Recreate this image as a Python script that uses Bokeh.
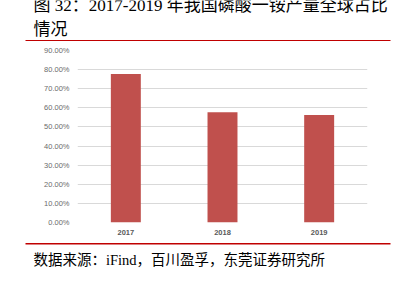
from bokeh.plotting import figure
from bokeh.layouts import column, row
from bokeh.models import FactorRange, Range1d, NumeralTickFormatter, FixedTicker
from bokeh.core.properties import value
from bokeh.embed import file_html
from bokeh.resources import INLINE

years = ["2017", "2018", "2019"]
share = [0.777, 0.577, 0.562]
y_ticks = [0.0, 0.1, 0.2, 0.3, 0.4, 0.5, 0.6, 0.7, 0.8, 0.9]
title_line1 = "图 32：2017-2019 年我国磷酸一铵产量全球占比"
title_line2 = "情况"
source_text = "数据来源：iFind，百川盈孚，东莞证券研究所"

W = 397
FONT = "Liberation Serif, Noto Sans CJK SC"
RED = "#c00000"


def blank(h):
    f = figure(width=W, height=h, x_range=Range1d(0, W), y_range=Range1d(h, 0),
               output_backend="svg", toolbar_location=None,
               x_axis_location=None, y_axis_location=None,
               min_border_left=0, min_border_right=0, min_border_top=0, min_border_bottom=0)
    f.grid.visible = False
    f.outline_line_color = None
    f.background_fill_color = "white"
    f.border_fill_color = "white"
    return f


# title block
HT = 41
t = blank(HT)
t.text(x=[33, 33], y=[4.5, 28.5], text=[title_line1, title_line2],
       text_font=value(FONT), text_font_size="17px", text_color="#000000",
       text_baseline="alphabetic", text_align="left")
t.segment(x0=[25], y0=[40.2], x1=[390], y1=[40.2], line_color=RED, line_width=1.6)

# chart
HC = 200
p = figure(width=W, height=HC, x_range=FactorRange(*years, range_padding=0),
           y_range=Range1d(0, 0.9), output_backend="svg", toolbar_location=None,
           min_border_left=77, min_border_right=30, min_border_top=9, min_border_bottom=19)
p.outline_line_color = None
p.background_fill_color = "white"
p.border_fill_color = "white"

p.vbar(x=years, top=share, width=0.31, color="#c0504d", line_color=None)

p.yaxis.ticker = FixedTicker(ticks=y_ticks)
p.yaxis.formatter = NumeralTickFormatter(format="0.00%")
p.yaxis.axis_line_color = None
p.yaxis.major_tick_line_color = None
p.yaxis.major_tick_out = 0
p.yaxis.minor_tick_line_color = None
p.yaxis.major_label_text_font = "Liberation Sans"
p.yaxis.major_label_text_font_size = "7.5px"
p.yaxis.major_label_text_color = "#6b6b6b"
p.yaxis.major_label_standoff = 8

p.xaxis.axis_line_color = None
p.xaxis.major_tick_line_color = None
p.xaxis.major_tick_out = 0
p.xaxis.major_label_text_font = "Liberation Sans"
p.xaxis.major_label_text_font_size = "7.5px"
p.xaxis.major_label_text_font_style = "bold"
p.xaxis.major_label_text_color = "#595959"
p.xaxis.major_label_standoff = 7

p.xgrid.grid_line_color = None
p.ygrid.grid_line_color = "#d9d9d9"
p.ygrid.grid_line_width = 1

# source block
HS = 41
s = blank(HS)
s.segment(x0=[25], y0=[2.3], x1=[390], y1=[2.3], line_color=RED, line_width=1.6)
s.text(x=[33], y=[18.5], text=[source_text],
       text_font=value(FONT), text_font_size="14.5px", text_color="#000000",
       text_baseline="alphabetic", text_align="left")

layout = column(row(t), row(p), row(s), spacing=0)
open("out.html", "w").write(file_html(layout, INLINE))
